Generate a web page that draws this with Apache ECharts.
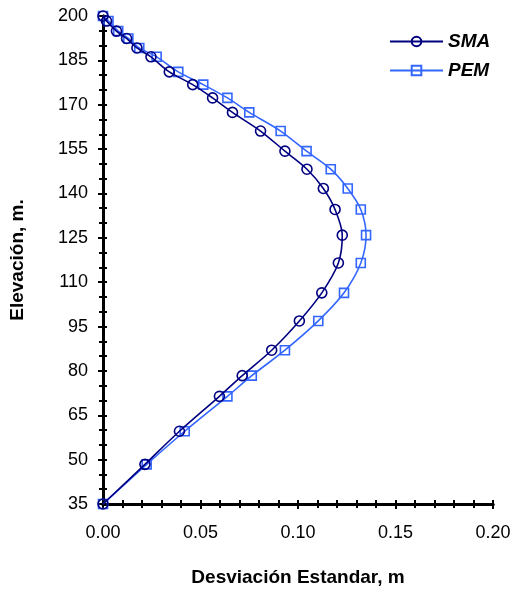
<!DOCTYPE html>
<html>
<head>
<meta charset="utf-8">
<script src="https://cdn.jsdelivr.net/npm/echarts@6/dist/echarts.min.js"></script>
<style>html,body{margin:0;padding:0;background:#fff}#c{width:516px;height:593px}</style>
</head>
<body>
<div id="c"></div>
<script>
const elevation = [200, 198.3, 194.9, 192.4, 189.2, 186.2, 181.1, 176.8, 172.3, 167.4, 161.1, 154.3, 148.2, 141.7, 134.6, 125.9, 116.5, 106.4, 96.9, 87.0, 78.4, 71.4, 59.6, 48.4, 35];
const smaDev = [0, 0.0018, 0.0069, 0.0121, 0.0174, 0.0246, 0.0340, 0.0460, 0.0562, 0.0664, 0.0808, 0.0933, 0.1046, 0.1130, 0.1190, 0.1227, 0.1207, 0.1122, 0.1007, 0.0865, 0.0714, 0.0597, 0.0392, 0.0215, 0];
const pemDev = [0, 0.0028, 0.0078, 0.0130, 0.0186, 0.0275, 0.0386, 0.0514, 0.0638, 0.0750, 0.0911, 0.1044, 0.1168, 0.1255, 0.1322, 0.1349, 0.1322, 0.1236, 0.1104, 0.0933, 0.0763, 0.0638, 0.0419, 0.0224, 0];
const seriesNames = ['SMA', 'PEM'];
const xTicks = {min: 0, max: 0.2, step: 0.05};
const yTicks = {min: 35, max: 200, step: 15};

const chart = echarts.init(document.getElementById('c'), null, {renderer: 'canvas'});
const FONT = 'Liberation Sans, Arial, sans-serif';
const axisBase = () => ({
  type: 'value',
  splitLine: {show: false},
  axisLine: {show: true, onZero: false, lineStyle: {color: '#000', width: 3}},
});
const xMain = Object.assign(axisBase(), {
  min: xTicks.min, max: xTicks.max, interval: xTicks.step, position: 'bottom',
  axisTick: {show: true, length: 5, lineStyle: {color: '#000', width: 2}},
  minorTick: {show: true, splitNumber: 5, length: 4, lineStyle: {color: '#000', width: 2}},
  axisLabel: {color: '#000', fontSize: 18, fontFamily: FONT, margin: 20, formatter: v => v.toFixed(2)},
  name: 'Desviación Estandar, m', nameLocation: 'middle', nameGap: 64,
  nameTextStyle: {color: '#000', fontSize: 19, fontWeight: 'bold', fontFamily: FONT}
});
const xInner = Object.assign(axisBase(), {
  min: xTicks.min, max: xTicks.max, interval: xTicks.step, position: 'bottom',
  axisTick: {show: true, inside: true, length: 4, lineStyle: {color: '#000', width: 2}},
  minorTick: {show: true, splitNumber: 5, length: 4, lineStyle: {color: '#000', width: 2}},
  axisLabel: {show: false}
});
const yMain = Object.assign(axisBase(), {
  min: yTicks.min, max: yTicks.max, interval: yTicks.step, position: 'left',
  axisTick: {show: true, length: 5, lineStyle: {color: '#000', width: 2}},
  minorTick: {show: true, splitNumber: 3, length: 4, lineStyle: {color: '#000', width: 2}},
  axisLabel: {color: '#000', fontSize: 18, fontFamily: FONT, margin: 15},
  name: 'Elevación, m.', nameLocation: 'middle', nameGap: 76, nameRotate: 90,
  nameTextStyle: {color: '#000', fontSize: 19, fontWeight: 'bold', fontFamily: FONT}
});
const yInner = Object.assign(axisBase(), {
  min: yTicks.min, max: yTicks.max, interval: yTicks.step, position: 'left',
  axisTick: {show: true, inside: true, length: 4, lineStyle: {color: '#000', width: 2}},
  minorTick: {show: true, splitNumber: 3, length: 4, lineStyle: {color: '#000', width: 2}},
  axisLabel: {show: false}
});

const colors = ['#000080', '#3366FF'];
const symbols = ['circle', 'rect'];
const devs = [smaDev, pemDev];

chart.setOption({
  animation: false,
  backgroundColor: '#fff',
  grid: {left: 103, right: 23, top: 16, bottom: 89, containLabel: false},
  legend: {
    orient: 'vertical', left: 389, top: 32, padding: 0, itemWidth: 53, itemHeight: 12, itemGap: 10,
    textStyle: {color: '#000', fontSize: 19, fontWeight: 'bold', fontStyle: 'italic', fontFamily: FONT},
    data: seriesNames
  },
  xAxis: [xMain, xInner],
  yAxis: [yMain, yInner],
  series: seriesNames.map((n, k) => ({
    name: n, type: 'line', xAxisIndex: 0, yAxisIndex: 0,
    smooth: 0.3,
    symbol: symbols[k], symbolSize: k === 0 ? 10 : 9,
    showAllSymbol: true,
    lineStyle: {color: colors[k], width: 1.6},
    itemStyle: {color: 'rgba(255,255,255,0)', borderColor: colors[k], borderWidth: 1.6},
    z: k === 0 ? 3 : 2,
    data: elevation.map((e, i) => [devs[k][i], e])
  }))
});
</script>
</body>
</html>
